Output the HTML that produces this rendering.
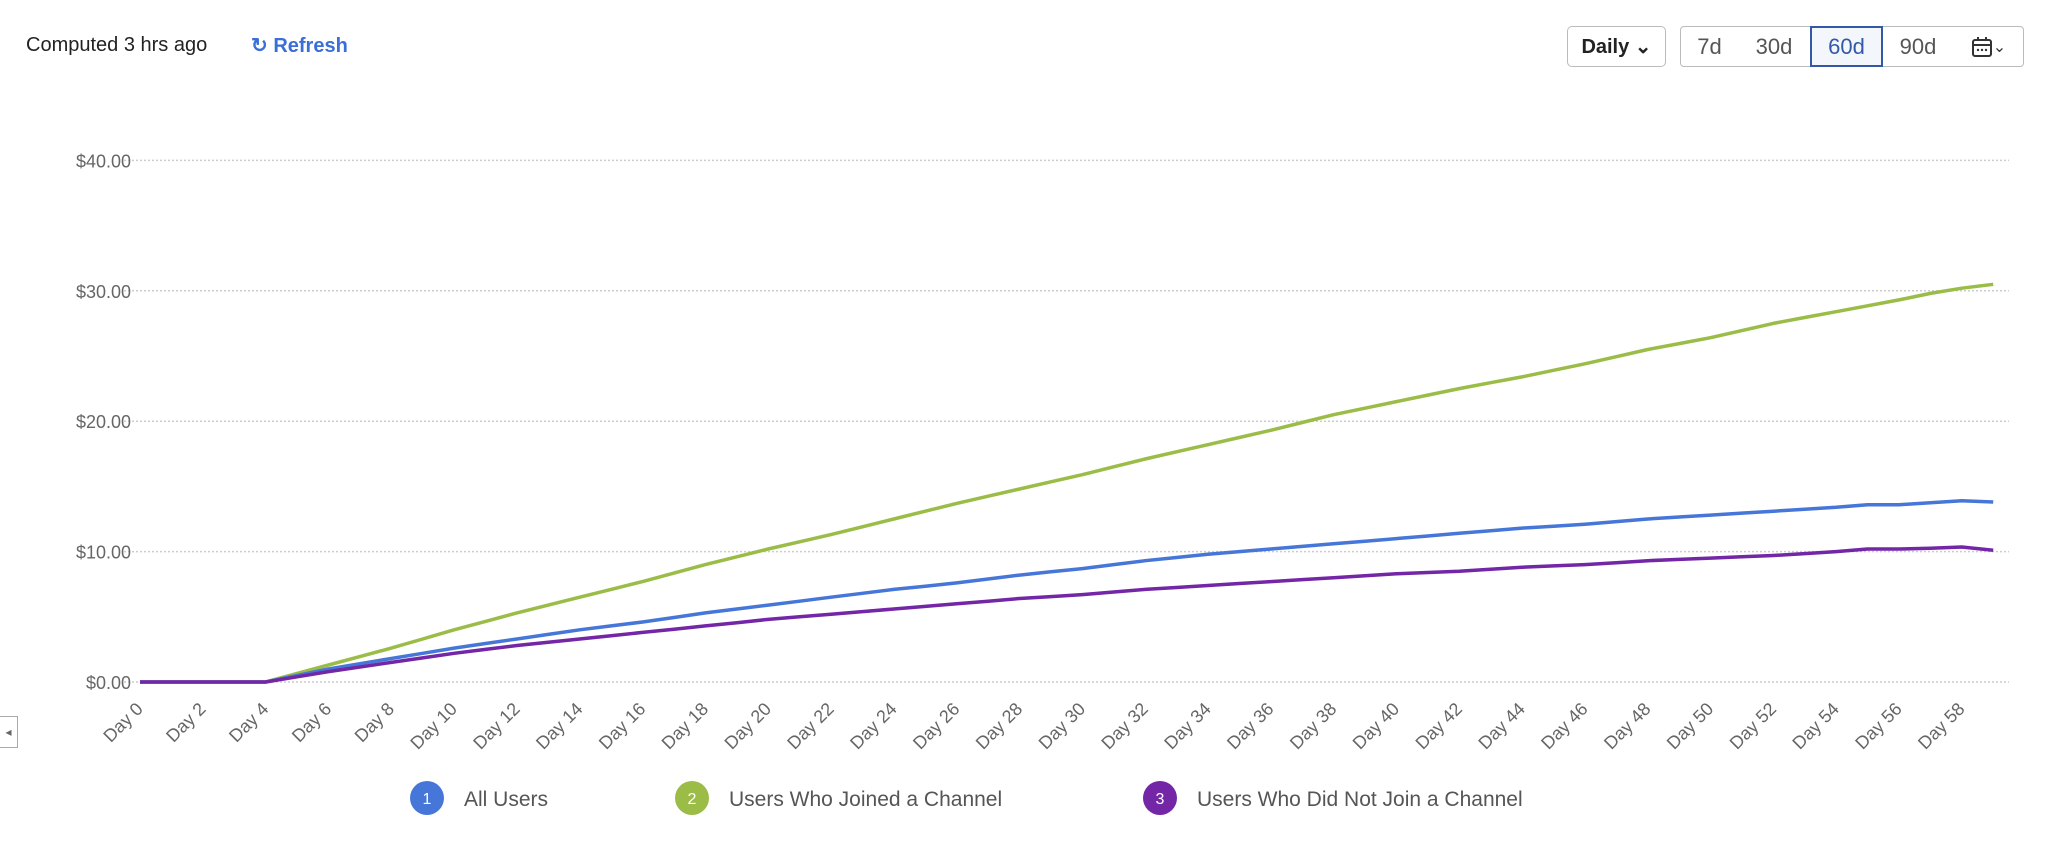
<!DOCTYPE html>
<html><head><meta charset="utf-8"><style>
body{margin:0;width:2048px;height:851px;background:#fff;overflow:hidden;font-family:"Liberation Sans",sans-serif;position:relative}
.t{position:absolute;white-space:nowrap}
.btn{position:absolute;top:26px;height:41px;box-sizing:border-box;border:1.5px solid #bbb;display:flex;align-items:center;justify-content:center;font-size:22px;color:#555;background:#fff}
</style></head><body>
<div class="t" style="left:26px;top:34px;font-size:20px;color:#222">Computed 3 hrs ago</div>
<div class="t" style="left:251px;top:33px;font-size:20px;color:#3a6fd8;font-weight:bold">&#x21bb; Refresh</div>
<div class="btn" style="left:1567px;width:99px;border-radius:5px;color:#222;font-weight:bold;font-size:20px">Daily &#x2304;</div>
<div class="btn" style="left:1680px;width:59px;border-radius:4px 0 0 4px">7d</div>
<div class="btn" style="left:1738px;width:73px;border-left:none">30d</div>
<div class="btn" style="left:1810px;width:73px;border:2px solid #3458a8;background:#f3f6fa;color:#3458a8;z-index:2">60d</div>
<div class="btn" style="left:1882px;width:73px;border-left:none">90d</div>
<div class="btn" style="left:1954px;width:70px;border-left:none;border-radius:0 4px 4px 0;color:#333;font-size:16px"><svg width="22" height="22" viewBox="0 0 22 22"><rect x="2" y="4" width="18" height="16" rx="2" fill="none" stroke="#333" stroke-width="2"/><line x1="2" y1="9" x2="20" y2="9" stroke="#333" stroke-width="2"/><line x1="7" y1="1" x2="7" y2="5" stroke="#333" stroke-width="2"/><line x1="15" y1="1" x2="15" y2="5" stroke="#333" stroke-width="2"/><circle cx="7" cy="14" r="1.2" fill="#333"/><circle cx="11" cy="14" r="1.2" fill="#333"/><circle cx="15" cy="14" r="1.2" fill="#333"/></svg>&#x2304;</div>
<div style="position:absolute;left:0;top:716px;width:18px;height:32px;border:1.5px solid #aaa;border-left:none;box-sizing:border-box;color:#666;font-size:12px;line-height:30px;text-align:center">&#x25C2;</div>
<svg id="s" width="2048" height="851" style="position:absolute;left:0;top:0"></svg>
<script>
var s=document.getElementById('s'),h='';
var X=function(d){return 140+d*31.41},Y=function(v){return 682-v*13.04};
[0,10,20,30,40].forEach(function(v){h+='<line x1="124" x2="2009" y1="'+Y(v)+'" y2="'+Y(v)+'" stroke="#ccc" stroke-width="1.5" stroke-dasharray="2,2"/>';
h+='<text x="131" y="'+(Y(v)+7)+'" text-anchor="end" font-size="18" fill="#666" font-family="Liberation Sans">$'+v+'.00</text>';});
for(var d=0;d<=58;d+=2){var x=X(d)+4,y=710;h+='<text x="'+x+'" y="'+y+'" transform="rotate(-45 '+x+' '+y+')" text-anchor="end" font-size="18" fill="#666" font-family="Liberation Sans">Day '+d+'</text>';}
function interp(a){var p=[];for(var d=0;d<=59;d++){for(var i=0;i<a.length-1;i++){if(d>=a[i][0]&&d<=a[i+1][0]){var t=(d-a[i][0])/(a[i+1][0]-a[i][0]);p.push(X(d).toFixed(1)+','+Y(a[i][1]+t*(a[i+1][1]-a[i][1])).toFixed(1));break;}}}return p.join(' ');}
function P(str){return str.split(' ').map(function(q){var z=q.split(':');return [+z[0],+z[1]];});}
var G=P('0:0 4:0 6:1.3 8:2.6 10:4.0 12:5.3 14:6.5 16:7.7 18:9.0 20:10.2 22:11.3 24:12.5 26:13.7 28:14.8 30:15.9 32:17.1 34:18.2 36:19.3 38:20.5 40:21.5 42:22.5 44:23.4 46:24.4 48:25.5 50:26.4 52:27.5 54:28.4 56:29.3 57:29.8 58:30.2 59:30.5');
var B=P('0:0 4:0 6:1.0 8:1.8 10:2.6 12:3.3 14:4.0 16:4.6 18:5.3 20:5.9 22:6.5 24:7.1 26:7.6 28:8.2 30:8.7 32:9.3 34:9.8 36:10.2 38:10.6 40:11.0 42:11.4 44:11.8 46:12.1 48:12.5 50:12.8 52:13.1 54:13.4 55:13.6 56:13.6 58:13.9 59:13.8');
var U=P('0:0 4:0 6:0.8 8:1.5 10:2.2 12:2.8 14:3.3 16:3.8 18:4.3 20:4.8 22:5.2 24:5.6 26:6.0 28:6.4 30:6.7 32:7.1 34:7.4 36:7.7 38:8.0 40:8.3 42:8.5 44:8.8 46:9.0 48:9.3 50:9.5 52:9.7 54:10.0 55:10.2 56:10.2 57:10.25 58:10.35 59:10.1');
[[G,'#9bbc47'],[B,'#4677d8'],[U,'#7326a5']].forEach(function(c){h+='<polyline points="'+interp(c[0])+'" fill="none" stroke="'+c[1]+'" stroke-width="3.5" stroke-linejoin="round"/>';});
[[427,'#4677d8','1','All Users'],[692,'#9bbc47','2','Users Who Joined a Channel'],[1160,'#7326a5','3','Users Who Did Not Join a Channel']].forEach(function(l){
h+='<circle cx="'+l[0]+'" cy="798" r="17" fill="'+l[1]+'"/><text x="'+l[0]+'" y="804" text-anchor="middle" font-size="16" fill="#fff" font-family="Liberation Sans">'+l[2]+'</text>';
h+='<text x="'+(l[0]+37)+'" y="806" font-size="21" fill="#555" font-family="Liberation Sans">'+l[3]+'</text>';});
s.innerHTML=h;
</script>
</body></html>
